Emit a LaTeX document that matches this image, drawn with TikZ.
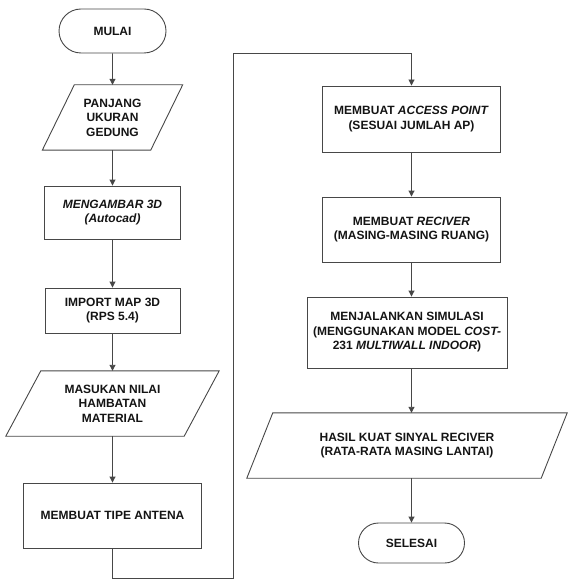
\documentclass[tikz,border=0pt]{standalone}
\usepackage{fontspec}
\setmainfont{Liberation Sans}
\usetikzlibrary{arrows.meta,calc,shapes.misc}
\begin{document}
\begin{tikzpicture}[x=1pt,y=-1pt,
  every node/.style={font=\bfseries\fontsize{12}{14.5}\selectfont, align=center, text=black!92, inner sep=1pt},
  line/.style={draw=black!72, line width=0.9pt},
  arr/.style={line, -{Triangle[length=6pt,width=6pt]}},
  proc/.style={line, rectangle},
  term/.style={line, rounded rectangle},
  io/.style={rectangle}
]
\useasboundingbox (0,0) rectangle (567,580);

% left column
\node[term, minimum width=109pt, minimum height=44pt] (mulai) at (112.5,31) {MULAI};
\node[io, minimum width=108pt, minimum height=65pt] (panjang) at (112.5,117.5) {PANJANG\\UKURAN\\GEDUNG};
\node[proc, minimum width=136pt, minimum height=53pt] (gambar) at (112.5,212.5) {\itshape MENGAMBAR 3D\\\itshape (Autocad)};
\node[proc, minimum width=135pt, minimum height=45pt] (import) at (112.5,310.5) {IMPORT MAP 3D\\(RPS 5.4)};
\node[io, minimum width=178pt, minimum height=65pt] (masukan) at (112.5,403.5) {MASUKAN NILAI\\HAMBATAN\\MATERIAL};
\node[proc, minimum width=178pt, minimum height=65pt] (antena) at (112.5,515.5) {MEMBUAT TIPE ANTENA};

% right column
\node[proc, minimum width=178pt, minimum height=66pt] (access) at (411.5,119) {MEMBUAT \textit{ACCESS POINT}\\(SESUAI JUMLAH AP)};
\node[proc, minimum width=178pt, minimum height=65pt] (reciver) at (411.5,229.5) {MEMBUAT \textit{RECIVER}\\(MASING-MASING RUANG)};
\node[proc, minimum width=200pt, minimum height=71pt] (simulasi) at (407,332.5) {MENJALANKAN SIMULASI\\(MENGGUNAKAN MODEL \textit{COST-}\\231 \textit{MULTIWALL INDOOR})};
\node[io, minimum width=294pt, minimum height=65pt] (hasil) at (407,445.5) {HASIL KUAT SINYAL RECIVER\\(RATA-RATA MASING LANTAI)};
\node[term, minimum width=108pt, minimum height=40pt] (selesai) at (411.5,543) {SELESAI};

% parallelogram outlines
\draw[line] ([xshift=16pt]panjang.north west) -- ([xshift=16pt]panjang.north east) -- ([xshift=-16pt]panjang.south east) -- ([xshift=-16pt]panjang.south west) -- cycle;
\draw[line] ([xshift=17.5pt]masukan.north west) -- ([xshift=17.5pt]masukan.north east) -- ([xshift=-17.5pt]masukan.south east) -- ([xshift=-17.5pt]masukan.south west) -- cycle;
\draw[line] ([xshift=13pt]hasil.north west) -- ([xshift=13pt]hasil.north east) -- ([xshift=-13pt]hasil.south east) -- ([xshift=-13pt]hasil.south west) -- cycle;

% connectors
\draw[arr] (mulai) -- (panjang);
\draw[arr] (panjang) -- (gambar);
\draw[arr] (gambar) -- (import);
\draw[arr] (import) -- (masukan);
\draw[arr] (masukan) -- (antena);

\coordinate (c1) at (112.5,578);
\coordinate (c2) at (233,578);
\coordinate (c3) at (233,53);
\coordinate (c4) at (411.5,53);
\draw[arr] (antena.south) -- (c1) -- (c2) -- (c3) -- (c4) -- (access.north);

\draw[arr] (access) -- (reciver);
\draw[arr] (reciver.south) -- (reciver.south |- simulasi.north);
\draw[arr] (reciver.south |- simulasi.south) -- (reciver.south |- hasil.north);
\draw[arr] (reciver.south |- hasil.south) -- (selesai.north);
\end{tikzpicture}
\end{document}
